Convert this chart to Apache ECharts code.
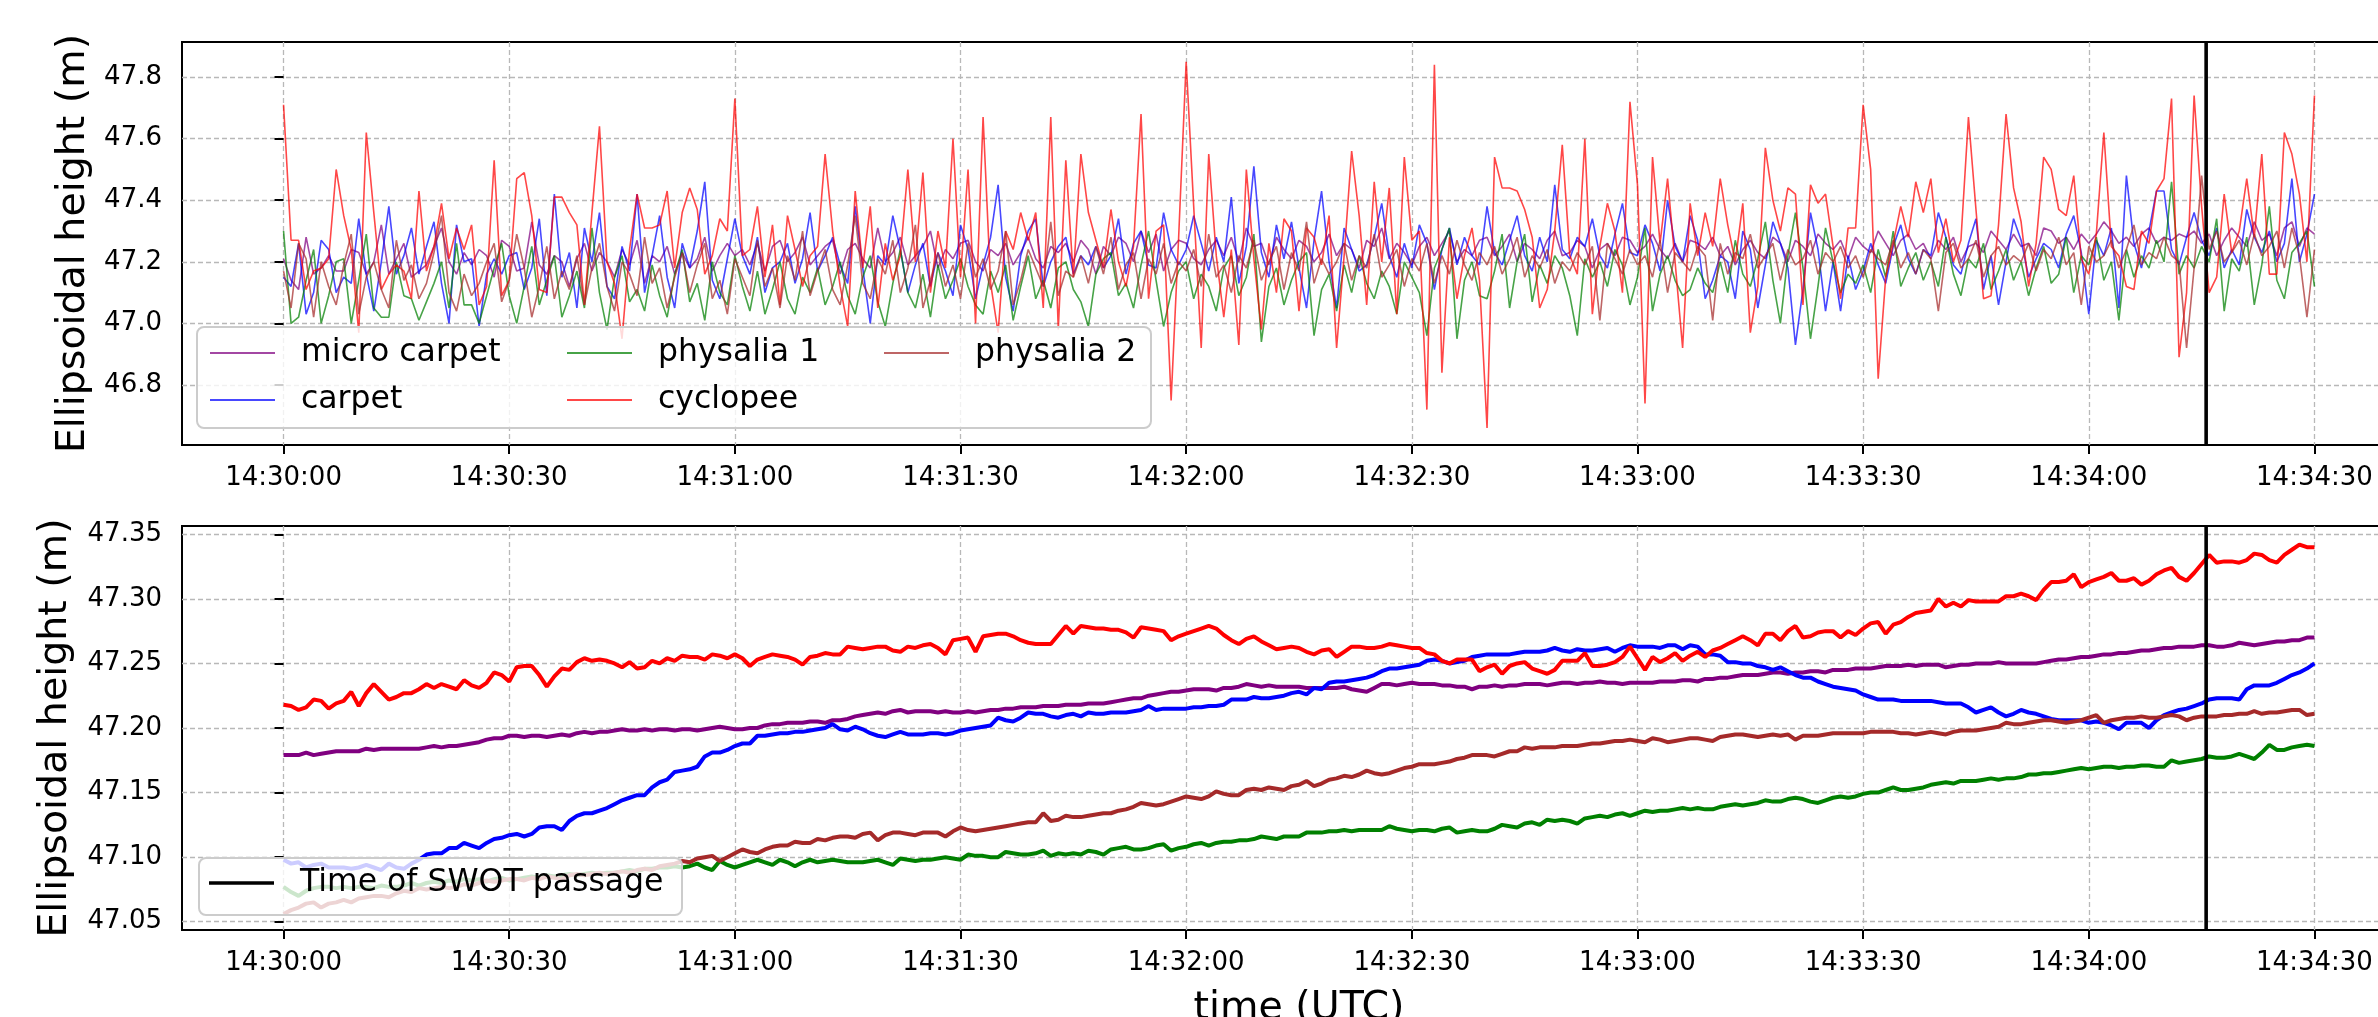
<!DOCTYPE html>
<html><head><meta charset="utf-8">
<script src="https://cdn.jsdelivr.net/npm/echarts@6/dist/echarts.min.js"></script>
<style>html,body{margin:0;padding:0;background:#fff}#c{width:2378px;height:1017px}</style>
</head><body><div id="c"></div>
<script>
// ---- axes / ticks ----
const xTickSeconds = [0,30,60,90,120,150,180,210,240,270];
const xTickLabels = ['14:30:00','14:30:30','14:31:00','14:31:30','14:32:00','14:32:30','14:33:00','14:33:30','14:34:00','14:34:30'];
const xRange = [-13.5, 283.5];            // seconds after 14:30:00
const topYTicks = [46.8,47.0,47.2,47.4,47.6,47.8];
const topYRange = [46.605, 47.914];
const botYTicks = [47.05,47.10,47.15,47.20,47.25,47.30,47.35];
const botYRange = [47.0436, 47.3564];
const swotTime = 255.6;                    // ~14:34:15.6
const seriesNames = ['micro carpet','carpet','physalia 1','cyclopee','physalia 2'];
const swotName = 'Time of SWOT passage';

// ---- raw 1 Hz heights (top panel), from 14:30:00 to 14:34:30 ----
const rawMicroCarpet = [
47.21,47.14,47.11,47.28,47.16,47.18,47.22,47.17,47.17,47.24,
47.23,47.16,47.20,47.32,47.16,47.21,47.26,47.15,47.17,47.19,
47.25,47.31,47.20,47.16,47.23,47.19,47.24,47.22,47.15,47.27,
47.25,47.17,47.18,47.33,47.19,47.16,47.22,47.20,47.12,47.21,
47.26,47.17,47.23,47.20,47.15,47.24,47.19,47.27,47.13,47.22,
47.20,47.25,47.16,47.23,47.18,47.21,47.28,47.17,47.22,47.26,
47.22,47.24,47.19,47.26,47.17,47.25,47.27,47.20,47.23,47.28,
47.19,47.22,47.25,47.27,47.16,47.24,47.26,47.21,47.18,47.31,
47.20,47.23,47.28,47.19,47.22,47.25,47.30,47.18,47.24,47.21,
47.26,47.27,47.20,47.17,47.24,47.22,47.26,47.19,47.23,47.28,
47.21,47.18,47.25,47.23,47.26,47.20,47.27,47.24,47.16,47.25,
47.22,47.28,47.26,47.20,47.30,47.23,47.29,47.17,47.24,47.27,
47.26,47.21,47.19,47.24,47.27,47.22,47.28,47.20,47.31,47.25,
47.26,47.19,47.28,47.24,47.21,47.27,47.25,47.20,47.23,47.29,
47.22,47.26,47.24,47.18,47.27,47.25,47.31,47.21,47.26,47.23,
47.19,47.25,47.28,47.22,47.26,47.30,47.20,47.24,47.22,47.27,
47.28,47.22,47.25,47.29,47.20,47.26,47.24,47.21,47.27,47.30,
47.22,47.23,47.27,47.25,47.18,47.24,47.26,47.22,47.28,47.27,
47.23,47.25,47.29,47.24,47.21,47.26,47.20,47.27,47.26,47.24,
47.28,47.22,47.25,47.19,47.24,47.27,47.23,47.21,47.28,47.26,
47.20,47.27,47.25,47.22,47.29,47.26,47.24,47.27,47.21,47.28,
47.25,47.23,47.30,47.26,47.22,47.27,47.29,47.24,47.26,47.21,
47.27,47.24,47.28,47.20,47.25,47.26,47.23,47.30,47.27,47.24,
47.29,47.25,47.26,47.22,47.31,47.30,47.26,47.28,47.24,47.29,
47.26,47.29,47.33,47.30,47.26,47.28,47.25,47.29,47.31,47.26,
47.28,47.27,47.29,47.28,47.30,47.26,47.29,47.22,47.27,47.31,
47.28,47.25,47.33,47.27,47.29,47.22,47.31,47.33,47.25,47.31,47.29];
const rawCarpet = [
47.15,47.12,47.26,47.03,47.10,47.27,47.24,47.10,47.15,47.13,
47.34,47.16,47.04,47.20,47.38,47.16,47.22,47.31,47.16,47.25,
47.33,47.13,47.00,47.32,47.20,47.21,46.99,47.16,47.21,47.16,
47.22,47.23,47.11,47.18,47.34,47.09,47.42,47.15,47.23,47.05,
47.31,47.20,47.36,47.12,47.08,47.25,47.17,47.42,47.10,47.22,
47.35,47.15,47.05,47.26,47.18,47.30,47.46,47.14,47.08,47.21,
47.34,47.22,47.16,47.28,47.10,47.18,47.20,47.26,47.13,47.21,
47.36,47.17,47.22,47.28,47.19,47.13,47.38,47.18,47.00,47.22,
47.19,47.35,47.24,47.10,47.19,47.26,47.12,47.23,47.17,47.09,
47.32,47.24,47.08,47.19,47.28,47.45,47.15,47.04,47.22,47.30,
47.34,47.12,47.20,47.25,47.28,47.16,47.22,47.19,47.25,47.18,
47.22,47.34,47.16,47.26,47.30,47.19,47.18,47.36,47.24,47.19,
47.24,47.35,47.26,47.17,47.28,47.20,47.41,47.13,47.25,47.51,
47.23,47.15,47.32,47.21,47.33,47.18,47.05,47.27,47.43,47.20,
47.05,47.31,47.24,47.17,47.19,47.28,47.39,47.22,47.15,47.26,
47.18,47.32,47.26,47.11,47.24,47.31,47.19,47.28,47.22,47.19,
47.38,47.23,47.19,47.27,47.35,47.22,47.17,47.28,47.20,47.45,
47.24,47.21,47.28,47.25,47.34,47.22,47.18,47.29,47.39,47.23,
47.22,47.32,47.26,47.17,47.40,47.25,47.20,47.35,47.27,47.08,
47.14,47.22,47.20,47.08,47.30,47.24,47.05,47.19,47.33,47.26,
47.18,46.93,47.11,47.36,47.24,47.04,47.20,47.04,47.22,47.11,
47.17,47.26,47.19,47.13,47.25,47.32,47.21,47.16,47.24,47.22,
47.36,47.28,47.19,47.16,47.26,47.34,47.11,47.22,47.06,47.20,
47.34,47.27,47.15,47.21,47.26,47.24,47.18,47.29,47.35,47.23,
47.03,47.27,47.22,47.31,47.05,47.48,47.26,47.18,47.30,47.43,
47.43,47.24,47.19,47.28,47.36,47.27,47.22,47.31,47.18,47.24,
47.19,47.37,47.28,47.23,47.30,47.20,47.26,47.47,47.20,47.29,47.42];
const rawPhysalia1 = [
47.30,47.00,47.02,47.14,47.24,47.00,47.09,47.20,47.21,47.00,
47.14,47.29,47.05,47.02,47.02,47.20,47.09,47.08,47.01,47.07,
47.13,47.20,47.05,47.26,47.06,47.06,47.00,47.09,47.18,47.26,
47.09,47.00,47.12,47.25,47.06,47.14,47.22,47.02,47.09,47.17,
47.05,47.31,47.10,46.98,47.15,47.22,47.07,47.11,47.04,47.19,
47.09,47.02,47.16,47.24,47.07,47.13,47.01,47.20,47.10,47.06,
47.22,47.12,47.04,47.17,47.03,47.11,47.20,47.08,47.03,47.15,
47.10,47.18,47.06,47.12,47.20,47.09,47.03,47.15,47.22,47.07,
46.99,47.13,47.24,47.10,47.05,47.16,47.02,47.19,47.08,47.14,
47.21,47.12,47.06,47.03,47.17,47.10,47.19,47.01,47.12,47.22,
47.08,47.14,47.05,47.18,47.20,47.11,47.07,46.99,47.16,47.21,
47.23,47.09,47.13,47.05,47.19,47.30,47.14,46.99,47.10,47.17,
47.20,47.08,47.16,47.12,47.04,47.18,47.22,47.09,47.15,47.29,
46.94,47.12,47.18,47.06,47.14,47.20,47.23,46.96,47.11,47.16,
47.04,47.19,47.10,47.22,47.13,47.08,47.17,47.12,47.03,47.20,
47.15,47.10,46.96,47.18,47.24,47.31,46.95,47.14,47.20,47.09,
47.08,47.17,47.29,47.05,47.20,47.29,47.07,47.19,47.13,47.22,
47.18,47.09,46.96,47.21,47.15,47.20,47.12,47.24,47.19,47.06,
47.15,47.31,47.04,47.16,47.22,47.14,47.09,47.11,47.18,47.13,
47.10,47.20,47.10,47.27,47.16,47.12,47.21,47.33,47.14,47.00,
47.22,47.36,47.18,46.95,47.12,47.31,47.20,47.10,47.16,47.13,
47.19,47.10,47.24,47.15,47.30,47.12,47.18,47.23,47.14,47.20,
47.12,47.28,47.16,47.09,47.21,47.18,47.26,47.11,47.17,47.24,
47.14,47.20,47.09,47.18,47.25,47.13,47.16,47.28,47.10,47.22,
47.19,47.28,47.14,47.20,47.01,47.24,47.15,47.22,47.18,47.27,
47.20,47.46,47.16,47.22,47.18,47.25,47.20,47.34,47.04,47.21,
47.17,47.28,47.06,47.19,47.38,47.14,47.08,47.23,47.26,47.30,47.12];
const rawCyclopee = [
47.71,47.27,47.27,47.11,47.17,47.18,47.21,47.50,47.35,47.24,
46.97,47.62,47.36,47.11,47.16,47.19,47.17,47.08,47.43,47.17,
47.25,47.39,47.21,47.31,47.24,47.32,47.06,47.12,47.53,47.09,
47.14,47.47,47.49,47.35,47.11,47.10,47.41,47.41,47.36,47.32,
47.06,47.36,47.64,47.20,47.13,46.95,47.24,47.42,47.31,47.31,
47.32,47.43,47.18,47.36,47.44,47.37,47.16,47.22,47.34,47.30,
47.73,47.22,47.24,47.38,47.15,47.32,47.06,47.35,47.24,47.12,
47.22,47.25,47.55,47.30,47.12,46.99,47.43,47.18,47.38,47.05,
47.26,47.14,47.22,47.50,47.20,47.49,47.10,47.30,47.18,47.60,
47.15,47.50,47.00,47.67,47.13,46.97,47.30,47.24,47.36,47.27,
47.36,47.05,47.67,46.98,47.53,47.15,47.55,47.36,47.27,47.18,
47.37,47.20,47.12,47.25,47.68,47.08,47.30,47.32,46.75,47.28,
47.85,47.38,46.92,47.55,47.22,47.02,47.24,46.93,47.50,47.21,
46.98,47.26,47.10,47.34,47.30,47.04,47.31,47.28,47.19,47.35,
46.92,47.22,47.56,47.35,47.06,47.46,47.20,47.44,47.03,47.54,
47.27,47.30,46.72,47.84,46.84,47.28,47.08,47.22,47.31,47.14,
46.66,47.54,47.44,47.44,47.43,47.37,47.28,47.05,47.11,47.30,
47.58,47.22,47.16,47.60,47.03,47.25,47.39,47.30,47.10,47.72,
47.45,46.74,47.54,47.26,47.47,47.20,46.92,47.39,47.22,47.36,
47.25,47.47,47.32,47.20,47.39,46.97,47.12,47.57,47.40,47.30,
47.44,47.42,47.06,47.45,47.39,47.42,47.25,47.08,47.31,47.31,
47.71,47.50,46.82,47.15,47.26,47.38,47.28,47.46,47.36,47.47,
47.23,47.34,47.20,47.27,47.67,47.37,47.08,47.09,47.32,47.68,
47.44,47.33,47.12,47.26,47.54,47.50,47.37,47.35,47.48,47.21,
47.16,47.29,47.62,47.25,47.22,47.12,47.11,47.30,47.26,47.43,
47.47,47.73,46.89,47.10,47.74,47.38,47.10,47.15,47.42,47.23,
47.30,47.47,47.28,47.55,47.16,47.16,47.62,47.55,47.42,47.20,47.74];
const rawPhysalia2 = [
47.17,47.05,47.26,47.21,47.02,47.20,47.12,47.06,47.19,47.29,
47.03,47.15,47.20,47.11,47.05,47.27,47.14,47.19,47.08,47.13,
47.23,47.35,47.10,47.04,47.16,47.09,47.13,47.20,47.26,47.07,
47.14,47.29,47.18,47.02,47.12,47.25,47.08,47.17,47.11,47.22,
47.06,47.18,47.26,47.12,47.04,47.20,47.16,47.09,47.28,47.13,
47.18,47.05,47.15,47.23,47.10,47.19,47.26,47.08,47.14,47.03,
47.21,47.15,47.09,47.27,47.12,47.18,47.05,47.22,47.14,47.30,
47.09,47.17,47.24,47.11,47.06,47.19,47.35,47.13,47.08,47.21,
47.16,47.27,47.10,47.18,47.32,47.05,47.14,47.23,47.12,47.19,
47.08,47.26,47.15,47.21,47.11,47.17,47.30,47.06,47.14,47.24,
47.18,47.12,47.33,47.09,47.17,47.15,47.22,47.13,47.25,47.16,
47.28,47.11,47.19,47.23,47.08,47.21,47.16,47.26,47.13,47.20,
47.17,47.24,47.12,47.29,47.15,47.19,47.10,47.22,47.18,47.27,
47.14,47.20,47.25,47.11,47.23,47.17,47.33,47.13,47.21,47.16,
47.20,47.26,47.14,47.22,47.18,47.29,47.15,47.19,47.24,47.12,
47.21,47.17,47.26,47.13,47.22,47.16,47.27,47.19,47.14,47.23,
47.19,47.25,47.16,47.21,47.28,47.15,47.22,47.18,47.24,47.13,
47.20,47.17,47.23,47.19,47.25,47.01,47.26,47.21,47.16,47.24,
47.19,47.22,47.15,47.27,47.10,47.23,47.20,47.17,47.25,47.22,
47.01,47.26,47.16,47.23,47.21,47.29,47.18,47.22,47.26,47.14,
47.24,47.19,47.21,47.27,47.16,47.23,47.20,47.25,47.18,47.22,
47.15,47.24,47.21,47.19,47.27,47.18,47.23,47.16,47.24,47.21,
47.04,47.23,47.26,47.18,47.21,47.27,47.15,47.22,47.25,47.19,
47.22,47.20,47.26,47.17,47.24,47.21,47.28,47.19,47.23,47.06,
47.25,47.20,47.22,47.27,47.18,47.24,47.32,47.19,47.23,47.21,
47.28,47.22,47.20,46.92,47.18,47.48,47.24,47.30,47.20,47.23,
47.27,47.19,47.29,47.22,47.25,47.30,47.18,47.31,47.22,47.02,47.24];

// ---- smoothed heights (bottom panel) ----
const smMicroCarpet = [
47.179,47.179,47.179,47.181,47.179,47.180,47.181,47.182,47.182,47.182,
47.182,47.184,47.183,47.184,47.184,47.184,47.184,47.184,47.184,47.185,
47.186,47.185,47.186,47.186,47.187,47.188,47.189,47.191,47.192,47.192,
47.194,47.194,47.193,47.194,47.194,47.193,47.194,47.195,47.194,47.196,
47.197,47.196,47.197,47.197,47.198,47.199,47.198,47.198,47.199,47.198,
47.199,47.199,47.198,47.199,47.199,47.198,47.199,47.200,47.201,47.200,
47.199,47.199,47.200,47.200,47.202,47.203,47.203,47.204,47.204,47.204,
47.205,47.205,47.204,47.206,47.206,47.207,47.209,47.210,47.211,47.212,
47.211,47.213,47.214,47.212,47.213,47.213,47.213,47.212,47.213,47.212,
47.212,47.213,47.212,47.213,47.214,47.214,47.215,47.215,47.216,47.216,
47.216,47.217,47.217,47.217,47.218,47.218,47.218,47.219,47.219,47.219,
47.220,47.221,47.222,47.223,47.223,47.225,47.226,47.227,47.228,47.228,
47.229,47.230,47.230,47.230,47.229,47.231,47.231,47.232,47.234,47.233,
47.232,47.233,47.232,47.232,47.232,47.232,47.231,47.231,47.231,47.231,
47.231,47.232,47.230,47.229,47.228,47.231,47.234,47.234,47.233,47.234,
47.235,47.234,47.234,47.234,47.233,47.233,47.232,47.232,47.230,47.232,
47.232,47.233,47.232,47.233,47.233,47.234,47.234,47.234,47.233,47.234,
47.235,47.235,47.234,47.235,47.235,47.236,47.235,47.235,47.234,47.235,
47.235,47.235,47.235,47.236,47.236,47.236,47.237,47.237,47.236,47.238,
47.238,47.239,47.239,47.240,47.241,47.241,47.241,47.242,47.243,47.243,
47.242,47.243,47.243,47.244,47.244,47.243,47.245,47.245,47.245,47.246,
47.246,47.246,47.247,47.248,47.248,47.248,47.249,47.248,47.249,47.249,
47.249,47.247,47.248,47.249,47.249,47.250,47.250,47.250,47.251,47.250,
47.250,47.250,47.250,47.250,47.251,47.252,47.253,47.253,47.254,47.255,
47.255,47.256,47.257,47.257,47.258,47.258,47.259,47.260,47.260,47.261,
47.262,47.262,47.263,47.263,47.263,47.264,47.264,47.263,47.263,47.264,
47.266,47.265,47.264,47.265,47.266,47.267,47.267,47.268,47.268,47.270,47.270];
const smCarpet = [
47.098,47.095,47.096,47.092,47.094,47.095,47.092,47.092,47.092,47.091,
47.092,47.094,47.092,47.090,47.095,47.092,47.091,47.095,47.098,47.102,
47.103,47.103,47.107,47.107,47.111,47.109,47.107,47.111,47.114,47.115,
47.117,47.118,47.116,47.118,47.123,47.124,47.124,47.121,47.128,47.132,
47.134,47.134,47.136,47.138,47.141,47.144,47.146,47.148,47.148,47.154,
47.158,47.160,47.166,47.167,47.168,47.170,47.178,47.181,47.181,47.183,
47.186,47.188,47.188,47.194,47.194,47.195,47.196,47.196,47.197,47.197,
47.198,47.199,47.200,47.203,47.199,47.198,47.201,47.199,47.196,47.194,
47.193,47.195,47.197,47.195,47.195,47.195,47.196,47.196,47.195,47.196,
47.198,47.199,47.200,47.201,47.202,47.208,47.206,47.205,47.208,47.212,
47.211,47.211,47.209,47.208,47.210,47.211,47.209,47.212,47.211,47.211,
47.212,47.212,47.212,47.213,47.214,47.217,47.214,47.215,47.215,47.215,
47.215,47.216,47.216,47.217,47.217,47.218,47.222,47.222,47.222,47.224,
47.223,47.223,47.224,47.225,47.227,47.228,47.226,47.231,47.230,47.235,
47.236,47.236,47.237,47.238,47.239,47.241,47.244,47.246,47.246,47.247,
47.248,47.249,47.252,47.253,47.252,47.250,47.251,47.252,47.255,47.256,
47.257,47.257,47.257,47.257,47.258,47.259,47.259,47.259,47.260,47.262,
47.260,47.259,47.261,47.260,47.260,47.261,47.262,47.259,47.262,47.264,
47.263,47.263,47.263,47.262,47.264,47.264,47.261,47.264,47.263,47.257,
47.257,47.256,47.251,47.251,47.250,47.250,47.248,47.247,47.245,47.247,
47.244,47.241,47.239,47.239,47.236,47.234,47.232,47.231,47.230,47.229,
47.226,47.224,47.222,47.222,47.222,47.221,47.221,47.221,47.221,47.221,
47.220,47.219,47.219,47.219,47.216,47.212,47.214,47.216,47.212,47.209,
47.211,47.214,47.212,47.211,47.209,47.207,47.206,47.206,47.206,47.206,
47.204,47.205,47.204,47.202,47.199,47.204,47.204,47.204,47.200,47.206,
47.210,47.212,47.214,47.215,47.217,47.219,47.222,47.223,47.223,47.223,
47.222,47.230,47.233,47.233,47.233,47.235,47.238,47.241,47.243,47.246,47.250];
const smPhysalia1 = [
47.077,47.073,47.070,47.074,47.076,47.077,47.077,47.076,47.077,47.076,
47.077,47.077,47.076,47.078,47.077,47.077,47.078,47.080,47.078,47.080,
47.081,47.080,47.082,47.081,47.083,47.082,47.083,47.081,47.083,47.084,
47.082,47.083,47.084,47.085,47.084,47.086,47.085,47.086,47.087,47.086,
47.087,47.088,47.087,47.088,47.088,47.089,47.090,47.089,47.091,47.091,
47.092,47.092,47.093,47.092,47.093,47.095,47.092,47.090,47.097,47.094,
47.092,47.094,47.096,47.098,47.096,47.094,47.098,47.096,47.093,47.096,
47.098,47.096,47.097,47.098,47.097,47.096,47.096,47.096,47.097,47.098,
47.096,47.094,47.099,47.098,47.097,47.098,47.098,47.099,47.100,47.099,
47.098,47.102,47.101,47.101,47.100,47.100,47.104,47.103,47.102,47.102,
47.103,47.105,47.101,47.103,47.102,47.103,47.102,47.105,47.104,47.102,
47.106,47.107,47.108,47.106,47.106,47.107,47.109,47.110,47.105,47.107,
47.108,47.110,47.111,47.109,47.111,47.112,47.112,47.113,47.113,47.114,
47.116,47.115,47.114,47.116,47.116,47.116,47.119,47.119,47.119,47.120,
47.120,47.121,47.120,47.121,47.121,47.121,47.121,47.124,47.122,47.121,
47.120,47.121,47.121,47.120,47.122,47.123,47.119,47.120,47.121,47.120,
47.120,47.122,47.125,47.124,47.123,47.126,47.127,47.125,47.129,47.128,
47.129,47.128,47.126,47.130,47.131,47.132,47.131,47.133,47.134,47.132,
47.134,47.136,47.135,47.136,47.136,47.137,47.138,47.137,47.138,47.137,
47.137,47.139,47.140,47.141,47.140,47.141,47.142,47.144,47.143,47.143,
47.145,47.146,47.145,47.143,47.142,47.144,47.146,47.147,47.146,47.147,
47.149,47.150,47.150,47.152,47.154,47.152,47.152,47.153,47.154,47.156,
47.157,47.158,47.157,47.159,47.159,47.159,47.160,47.161,47.160,47.161,
47.161,47.162,47.164,47.164,47.165,47.165,47.166,47.167,47.168,47.169,
47.168,47.169,47.170,47.170,47.169,47.170,47.170,47.171,47.171,47.170,
47.170,47.175,47.173,47.174,47.175,47.176,47.178,47.177,47.177,47.178,
47.180,47.178,47.176,47.181,47.187,47.183,47.183,47.185,47.186,47.187,47.186];
const smCyclopee = [
47.218,47.217,47.214,47.216,47.222,47.221,47.215,47.219,47.221,47.228,
47.217,47.227,47.234,47.228,47.222,47.224,47.227,47.227,47.230,47.234,
47.231,47.234,47.232,47.230,47.237,47.233,47.231,47.235,47.243,47.241,
47.236,47.247,47.248,47.248,47.241,47.232,47.240,47.246,47.245,47.251,
47.254,47.252,47.253,47.252,47.250,47.247,47.251,47.246,47.247,47.252,
47.250,47.254,47.252,47.256,47.255,47.255,47.253,47.257,47.256,47.254,
47.257,47.254,47.248,47.253,47.255,47.257,47.256,47.255,47.253,47.249,
47.255,47.256,47.258,47.257,47.257,47.263,47.262,47.261,47.262,47.263,
47.263,47.260,47.259,47.263,47.262,47.264,47.265,47.262,47.257,47.268,
47.269,47.270,47.259,47.271,47.272,47.273,47.273,47.271,47.268,47.266,
47.265,47.265,47.265,47.272,47.279,47.273,47.279,47.278,47.277,47.277,
47.276,47.276,47.274,47.270,47.278,47.277,47.276,47.275,47.268,47.271,
47.273,47.275,47.277,47.279,47.277,47.272,47.268,47.265,47.269,47.271,
47.267,47.264,47.261,47.262,47.263,47.262,47.259,47.257,47.260,47.261,
47.255,47.259,47.263,47.263,47.262,47.262,47.263,47.265,47.264,47.263,
47.262,47.262,47.258,47.257,47.252,47.250,47.253,47.253,47.253,47.244,
47.247,47.249,47.242,47.248,47.250,47.251,47.246,47.244,47.242,47.245,
47.252,47.252,47.252,47.258,47.248,47.248,47.249,47.251,47.255,47.263,
47.254,47.245,47.255,47.251,47.254,47.258,47.252,47.256,47.259,47.255,
47.260,47.262,47.265,47.268,47.271,47.268,47.264,47.273,47.273,47.268,
47.275,47.279,47.270,47.271,47.274,47.275,47.275,47.270,47.275,47.272,
47.277,47.281,47.282,47.273,47.280,47.282,47.286,47.289,47.290,47.291,
47.300,47.294,47.297,47.294,47.299,47.298,47.298,47.298,47.298,47.302,
47.302,47.304,47.302,47.299,47.307,47.313,47.313,47.314,47.319,47.309,
47.313,47.315,47.317,47.320,47.314,47.314,47.316,47.311,47.314,47.319,
47.322,47.324,47.317,47.314,47.320,47.327,47.334,47.328,47.329,47.329,
47.328,47.330,47.335,47.334,47.330,47.328,47.334,47.338,47.342,47.340,47.340];
const smPhysalia2 = [
47.056,47.059,47.061,47.064,47.065,47.061,47.064,47.065,47.067,47.065,
47.068,47.069,47.070,47.070,47.069,47.072,47.074,47.073,47.076,47.075,
47.076,47.077,47.076,47.077,47.079,47.078,47.080,47.082,47.081,47.082,
47.083,47.083,47.082,47.084,47.083,47.085,47.084,47.083,47.086,47.087,
47.086,47.087,47.088,47.087,47.088,47.089,47.088,47.090,47.091,47.090,
47.093,47.094,47.095,47.097,47.096,47.099,47.100,47.101,47.097,47.100,
47.103,47.106,47.104,47.103,47.106,47.108,47.109,47.109,47.112,47.111,
47.111,47.114,47.113,47.115,47.116,47.116,47.115,47.118,47.119,47.113,
47.117,47.119,47.119,47.118,47.117,47.119,47.119,47.119,47.116,47.120,
47.123,47.121,47.120,47.121,47.122,47.123,47.124,47.125,47.126,47.127,
47.127,47.134,47.128,47.129,47.132,47.131,47.131,47.132,47.133,47.134,
47.134,47.136,47.137,47.139,47.142,47.141,47.140,47.141,47.143,47.145,
47.147,47.146,47.145,47.147,47.151,47.149,47.148,47.148,47.152,47.153,
47.152,47.154,47.153,47.152,47.155,47.156,47.159,47.155,47.157,47.160,
47.161,47.163,47.162,47.164,47.167,47.165,47.164,47.165,47.167,47.169,
47.170,47.172,47.172,47.172,47.173,47.174,47.176,47.177,47.179,47.179,
47.179,47.178,47.180,47.182,47.182,47.185,47.184,47.185,47.185,47.185,
47.186,47.186,47.186,47.187,47.188,47.188,47.189,47.190,47.190,47.191,
47.190,47.189,47.192,47.191,47.189,47.190,47.191,47.192,47.192,47.191,
47.190,47.193,47.194,47.195,47.195,47.194,47.193,47.194,47.195,47.194,
47.195,47.191,47.194,47.194,47.194,47.195,47.196,47.196,47.196,47.196,
47.196,47.197,47.197,47.197,47.197,47.196,47.196,47.195,47.196,47.197,
47.196,47.195,47.197,47.198,47.198,47.198,47.199,47.200,47.201,47.204,
47.203,47.203,47.204,47.205,47.206,47.206,47.205,47.204,47.205,47.206,
47.208,47.210,47.204,47.206,47.207,47.208,47.208,47.209,47.208,47.208,
47.209,47.210,47.209,47.206,47.208,47.209,47.209,47.209,47.210,47.210,
47.211,47.211,47.213,47.211,47.212,47.212,47.213,47.214,47.214,47.210,47.211];

// ---- styling ----
const FONT = 'DejaVu Sans';
const colors = ['#800080','#0000ff','#008000','#ff0000','#a52a2a'];
const rawData = [rawMicroCarpet, rawCarpet, rawPhysalia1, rawCyclopee, rawPhysalia2];
const smData = [smMicroCarpet, smCarpet, smPhysalia1, smCyclopee, smPhysalia2];
const pairs = arr => arr.map((v, i) => [i, v]);   // 1 Hz samples from 14:30:00

const series = [];
rawData.forEach((arr, k) => series.push({
  name: seriesNames[k], type: 'line', xAxisIndex: 0, yAxisIndex: 0,
  data: pairs(arr), symbol: 'none', showSymbol: false, z: 2,
  lineStyle: {color: colors[k], width: 1.6, opacity: 0.72}, itemStyle: {color: colors[k], opacity: 0.72}
}));
smData.forEach((arr, k) => series.push({
  name: seriesNames[k] + ' (smoothed)', type: 'line', xAxisIndex: 1, yAxisIndex: 1,
  data: pairs(arr), symbol: 'none', showSymbol: false, z: 2,
  lineStyle: {color: colors[k], width: 4}, itemStyle: {color: colors[k]}
}));
series.push({
  name: swotName, type: 'line', xAxisIndex: 0, yAxisIndex: 0, symbol: 'none', z: 2.5,
  data: [[swotTime, topYRange[0]], [swotTime, topYRange[1]]],
  lineStyle: {color: '#000', width: 3.6}, itemStyle: {color: '#000'}
});
series.push({
  name: swotName, type: 'line', xAxisIndex: 1, yAxisIndex: 1, symbol: 'none', z: 2.5,
  data: [[swotTime, botYRange[0]], [swotTime, botYRange[1]]],
  lineStyle: {color: '#000', width: 3.6}, itemStyle: {color: '#000'}
});

const splitStyle = {show: true, lineStyle: {color: '#b8b8b8', type: [5, 3], width: 1.3}};
const tickStyle = vals => ({show: true, inside: false, length: 9, customValues: vals, lineStyle: {color: '#000', width: 2}});
function xAxis(idx, withName) {
  return {
    type: 'value', gridIndex: idx, min: xRange[0], max: xRange[1],
    axisLine: {show: false}, axisTick: tickStyle(xTickSeconds), splitLine: splitStyle,
    axisLabel: {customValues: xTickSeconds, margin: 20, fontSize: 26, fontFamily: FONT, color: '#000',
      formatter: v => xTickLabels[xTickSeconds.indexOf(Math.round(v))]},
    name: withName ? 'time (UTC)' : '', nameLocation: 'middle', nameGap: 59, nameMoveOverlap: false,
    nameTextStyle: {fontSize: 39.5, fontFamily: FONT, color: '#000'}
  };
}
function yAxis(idx, range, ticks, dec, gap) {
  return {
    type: 'value', gridIndex: idx, min: range[0], max: range[1],
    axisLine: {show: false}, axisTick: tickStyle(ticks), splitLine: splitStyle,
    axisLabel: {customValues: ticks, margin: 20, fontSize: 26, fontFamily: FONT, color: '#000',
      formatter: v => Number(v).toFixed(dec)},
    name: 'Ellipsoidal height (m)', nameLocation: 'middle', nameGap: gap, nameMoveOverlap: false,
    nameTextStyle: {fontSize: 39.5, fontFamily: FONT, color: '#000'}
  };
}
const legendBase = {
  orient: 'vertical', padding: 0, icon: 'rect', itemWidth: 65, itemHeight: 2, itemGap: 11,
  selectedMode: false, z: 6,
  textStyle: {fontSize: 31.5, fontFamily: FONT, color: '#000', lineHeight: 36, padding: [0, 0, 0, 21]}
};
const frameStyle = {fill: 'rgba(255,255,255,0.8)', stroke: '#cccccc', lineWidth: 2};

const chart = echarts.init(document.getElementById('c'), null, {renderer: 'canvas'});
chart.setOption({
  animation: false,
  backgroundColor: '#fff',
  grid: [
    {left: 182, top: 42, width: 2234, height: 403, show: true, borderColor: '#000', borderWidth: 2,
     backgroundColor: 'transparent', containLabel: false, outerBoundsMode: 'none'},
    {left: 182, top: 526, width: 2234, height: 404, show: true, borderColor: '#000', borderWidth: 2,
     backgroundColor: 'transparent', containLabel: false, outerBoundsMode: 'none'}
  ],
  xAxis: [xAxis(0, false), xAxis(1, true)],
  yAxis: [yAxis(0, topYRange, topYTicks, 1, 88), yAxis(1, botYRange, botYTicks, 2, 106)],
  legend: [
    Object.assign({}, legendBase, {data: [seriesNames[0], seriesNames[1]], left: 210, top: 335}),
    Object.assign({}, legendBase, {data: [seriesNames[2], seriesNames[3]], left: 567, top: 335}),
    Object.assign({}, legendBase, {data: [seriesNames[4]], left: 884, top: 335}),
    Object.assign({}, legendBase, {data: [swotName], left: 209, top: 865, itemHeight: 3.6})
  ],
  graphic: [
    {type: 'rect', z: 5, silent: true, shape: {x: 197, y: 327, width: 954, height: 101, r: 7}, style: frameStyle},
    {type: 'rect', z: 5, silent: true, shape: {x: 199, y: 858, width: 483, height: 57, r: 7}, style: frameStyle}
  ],
  series: series
});
</script></body></html>
